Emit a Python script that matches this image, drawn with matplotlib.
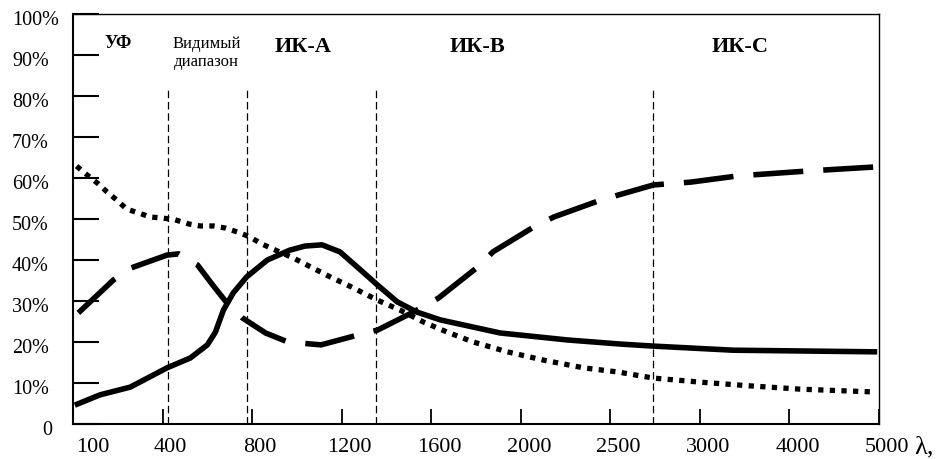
import matplotlib
matplotlib.use('Agg')
import matplotlib.pyplot as plt
import matplotlib.transforms as mtransforms

plt.rcParams['font.family'] = ['Liberation Serif', 'DejaVu Serif']

# x axis is a category-like scale: wavelength ticks are equally spaced
wavelength_labels = ['100', '400', '800', '1200', '1600', '2000', '2500', '3000', '4000', '5000']
percent_labels = ['0'] + [f'{v}%' for v in range(10, 101, 10)]

# curves, x in tick-index units (0 -> 100, 9 -> 5000), y in %
solid_x = [0.02, 0.30, 0.64, 1.05, 1.31, 1.50, 1.59, 1.68, 1.79, 1.94, 2.17, 2.42,
           2.59, 2.78, 2.98, 3.21, 3.40, 3.62, 3.84, 4.10, 4.77, 5.52, 6.11, 6.48,
           7.37, 8.98]
solid_y = [4.6, 7.1, 9.0, 13.7, 16.1, 19.3, 22.4, 27.8, 32.0, 35.9, 40.0, 42.4,
           43.4, 43.7, 42.0, 37.6, 33.9, 29.8, 27.3, 25.4, 22.2, 20.5, 19.5, 19.0,
           18.0, 17.6]

dashed_x = [0.06, 0.45, 0.64, 1.05, 1.18, 1.39, 1.56, 1.72, 1.89, 2.15, 2.40, 2.77,
            3.18, 3.40, 3.80, 4.08, 4.52, 4.69, 5.14, 5.37, 5.89, 6.48, 6.90, 7.42,
            8.20, 8.96]
dashed_y = [27.1, 35.1, 38.0, 41.2, 41.5, 38.8, 33.9, 29.5, 25.9, 22.2, 20.0, 19.3,
            21.7, 22.9, 27.3, 30.7, 38.3, 42.0, 48.0, 50.5, 54.6, 58.3, 59.0, 60.5,
            61.7, 62.7]

dotted_x = [0.04, 0.16, 0.27, 0.38, 0.49, 0.60, 0.73, 0.86, 1.01, 1.14, 1.29, 1.42,
            1.57, 1.70, 1.84, 1.98, 2.09, 2.23, 2.46, 2.61, 2.87, 3.13, 3.40, 3.65,
            3.91, 4.18, 4.47, 4.85, 5.25, 5.70, 6.08, 6.48, 7.01, 7.56, 8.12, 8.96]
dotted_y = [62.9, 60.7, 58.8, 56.6, 54.6, 52.4, 51.5, 50.5, 50.2, 49.8, 48.8, 48.3,
            48.3, 47.8, 46.8, 45.6, 44.1, 42.7, 40.5, 38.8, 35.9, 33.2, 30.2, 27.8,
            24.9, 22.4, 20.0, 17.6, 15.6, 13.7, 12.7, 11.2, 10.2, 9.3, 8.5, 7.8]

# spectral band boundaries and names
band_edges = [1.06, 1.94, 3.38, 6.48]
band_names = ['УФ', 'Видимый\nдиапазон', 'ИК-А', 'ИК-В', 'ИК-С']
band_centers = [0.50, 1.49, 2.57, 4.52, 7.45]


fig = plt.figure(figsize=(9.48, 4.59), dpi=100)
ax = fig.add_axes([73 / 948, 35 / 459, 806 / 948, 410 / 459])

ax.plot(solid_x, solid_y, color='black', linewidth=4.0, solid_capstyle='butt')
ax.plot(dashed_x, dashed_y, color='black', linewidth=4.0,
        linestyle=(0, (9, 3.6)), dash_capstyle='butt')
ax.plot(dotted_x, dotted_y, color='black', linewidth=3.8,
        linestyle=(0, (1.0, 1.2)), dash_capstyle='butt')

for xe in band_edges:
    ax.plot([xe, xe], [0, 82], color='black', linewidth=0.9,
            linestyle=(0, (6, 3)))

for name, xc in zip(band_names, band_centers):
    if name == 'УФ':
        ax.text(xc, 92.9, name, ha='center', va='center', fontsize=13, fontweight='bold')
    elif '\n' in name:
        ax.text(xc, 90.5, name, ha='center', va='center', fontsize=12, linespacing=1.2)
    else:
        ax.text(xc, 92.0, name, ha='center', va='center', fontsize=16, fontweight='bold')

ax.set_xlim(0, 9)
ax.set_ylim(0, 100)

ax.set_xticks(range(len(wavelength_labels)))
ax.set_xticklabels(wavelength_labels, fontsize=16)
ax.set_yticks(range(0, 101, 10))
ax.set_yticklabels(percent_labels, fontsize=14.5, ha='left')

ax.tick_params(axis='y', direction='in', length=19, width=1.5, pad=44)
ax.tick_params(axis='x', direction='in', length=11, width=1.3, pad=10)

# labels sit slightly right / below their ticks in the original
for i, lbl in enumerate(ax.get_xticklabels()):
    dx = 20 if i == 0 else 8
    lbl.set_transform(lbl.get_transform()
                      + mtransforms.ScaledTranslation(dx / 100, 0, fig.dpi_scale_trans))
shift_y = mtransforms.ScaledTranslation(0, -4 / 100, fig.dpi_scale_trans)
for lbl in ax.get_yticklabels():
    if lbl.get_text() == '0':
        lbl.set_transform(lbl.get_transform() + shift_y
                          + mtransforms.ScaledTranslation(30 / 100, 0, fig.dpi_scale_trans))
    else:
        lbl.set_transform(lbl.get_transform() + shift_y)

for side in ['left', 'bottom']:
    ax.spines[side].set_linewidth(1.5)
for side in ['top', 'right']:
    ax.spines[side].set_linewidth(1.0)

fig.text(924 / 948, 1 - 447 / 459, 'λ,', ha='center', va='center', fontsize=19)

fig.savefig('out.png', dpi=100)
